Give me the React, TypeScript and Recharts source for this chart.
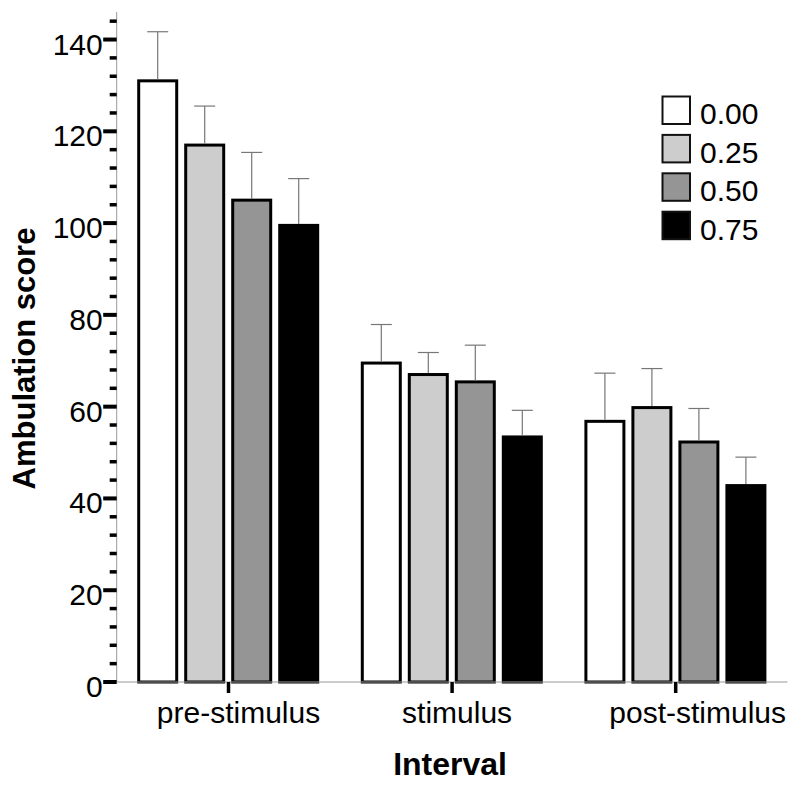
import { BarChart, Bar, XAxis, YAxis, Legend, Label } from 'recharts';

const intervals = ['pre-stimulus', 'stimulus', 'post-stimulus'];
const doses = ['0.00', '0.25', '0.50', '0.75'];

// means per dose, one value per interval
const mean000 = [131, 69.5, 56.8];
const mean025 = [117, 67, 59.8];
const mean050 = [105, 65.4, 52.3];
const mean075 = [99.5, 53.4, 42.8];

// upper error (SEM) per dose
const sem000 = [10.7, 8.4, 10.5];
const sem025 = [8.5, 4.8, 8.5];
const sem050 = [10.4, 8.0, 7.3];
const sem075 = [10.2, 5.8, 6.2];

const yTicks = [0, 4, 8, 12, 16, 20, 24, 28, 32, 36, 40, 44, 48, 52, 56, 60, 64, 68, 72, 76, 80, 84, 88, 92, 96, 100, 104, 108, 112, 116, 120, 124, 128, 132, 136, 140, 144];

const fills = ['#ffffff', '#cdcdcd', '#959595', '#000000'];
const labelShift = [10, 5, 22];
const font = '"Liberation Sans", Arial, sans-serif';

const means = [mean000, mean025, mean050, mean075];
const sems = [sem000, sem025, sem050, sem075];

const data = intervals.map((name, i) => {
  const row: Record<string, any> = { name };
  means.forEach((m, k) => {
    row['v' + k] = m[i];
    row['e' + k] = sems[k][i];
  });
  return row;
});

function BarWithError(props: any) {
  const { x, y, width, height, payload, k } = props;
  const v = payload['v' + k];
  const unit = v ? height / v : 0;
  const top = y - payload['e' + k] * unit;
  const cx = x + width / 2;
  return (
    <g>
      <rect x={x} y={y} width={width} height={height} fill={fills[k]} stroke="#000" strokeWidth={3} />
      <line x1={cx} x2={cx} y1={y - 1.5} y2={top} stroke="#777" strokeWidth={1.2} />
      <line x1={cx - 10.5} x2={cx + 10.5} y1={top} y2={top} stroke="#777" strokeWidth={1.2} />
    </g>
  );
}

function YTick(props: any) {
  const { x, y, payload } = props;
  const major = payload.value % 20 === 0;
  return (
    <g>
      <line x1={x - (major ? 13.5 : 7)} x2={x} y1={y} y2={y} stroke="#000" strokeWidth={major ? 4 : 3.5} />
      {major && (
        <text x={x - 14} y={y + 15} textAnchor="end" fontSize={30} fontFamily={font} fill="#000">
          {payload.value}
        </text>
      )}
    </g>
  );
}

function XTick(props: any) {
  const { x, y, payload, index } = props;
  return (
    <g>
      <line x1={x} x2={x} y1={y} y2={y + 11} stroke="#000" strokeWidth={3.5} />
      <text x={x + labelShift[index]} y={y + 41} textAnchor="middle" fontSize={30} fontFamily={font} fill="#000">
        {payload.value}
      </text>
    </g>
  );
}

function LegendBox() {
  return (
    <svg width={130} height={165}>
      {doses.map((d, i) => (
        <g key={d}>
          <rect x={7.5} y={6.5 + i * 38.4} width={27.5} height={27.5} fill={fills[i]} stroke="#111" strokeWidth={2} />
          <text x={45} y={34.3 + i * 38.4} fontSize={30} fontFamily={font} fill="#000">{d}</text>
        </g>
      ))}
    </svg>
  );
}

export default function App() {
  return (
    <div style={{ position: 'absolute', left: 0, top: 0, background: '#fff' }}>
      <BarChart
        width={800}
        height={791}
        data={data}
        margin={{ top: 12, right: 12.5, left: 16.7, bottom: 0 }}
        barCategoryGap={22}
        barGap={9}
      >
        <XAxis
          dataKey="name"
          height={109}
          axisLine={{ stroke: '#999', strokeWidth: 1 }}
          tickLine={false}
          tickSize={0}
          tickMargin={0}
          tick={<XTick />}
          interval={0}
        >
          <Label
            content={(p: any) => {
              const vb = p.viewBox;
              return (
                <text x={vb.x + vb.width / 2 - 2} y={vb.y + 93} textAnchor="middle" fontSize={32} fontWeight="bold" fontFamily={font} fill="#000">
                  Interval
                </text>
              );
            }}
          />
        </XAxis>
        <YAxis
          width={100}
          domain={[0, 146]}
          ticks={yTicks}
          interval={0}
          axisLine={{ stroke: '#999', strokeWidth: 1 }}
          tickLine={false}
          tickSize={0}
          tickMargin={0}
          tick={<YTick />}
        >
          <Label
            content={(p: any) => {
              const vb = p.viewBox;
              const lx = vb.x + 18.3;
              const ly = vb.y + vb.height / 2 + 11.5;
              return (
                <text x={lx} y={ly} transform={`rotate(-90 ${lx} ${ly})`} textAnchor="middle" fontSize={31} fontWeight="bold" fontFamily={font} fill="#000">
                  Ambulation score
                </text>
              );
            }}
          />
        </YAxis>
        <Legend
          layout="horizontal"
          verticalAlign="middle"
          align="center"
          content={<LegendBox />}
          wrapperStyle={{ left: 655, top: 90, width: 130, height: 165 }}
        />
        {doses.map((d, k) => (
          <Bar
            key={d}
            dataKey={'v' + k}
            name={d}
            fill={fills[k]}
            isAnimationActive={false}
            shape={(p: any) => <BarWithError {...p} k={k} />}
          />
        ))}
      </BarChart>
    </div>
  );
}
